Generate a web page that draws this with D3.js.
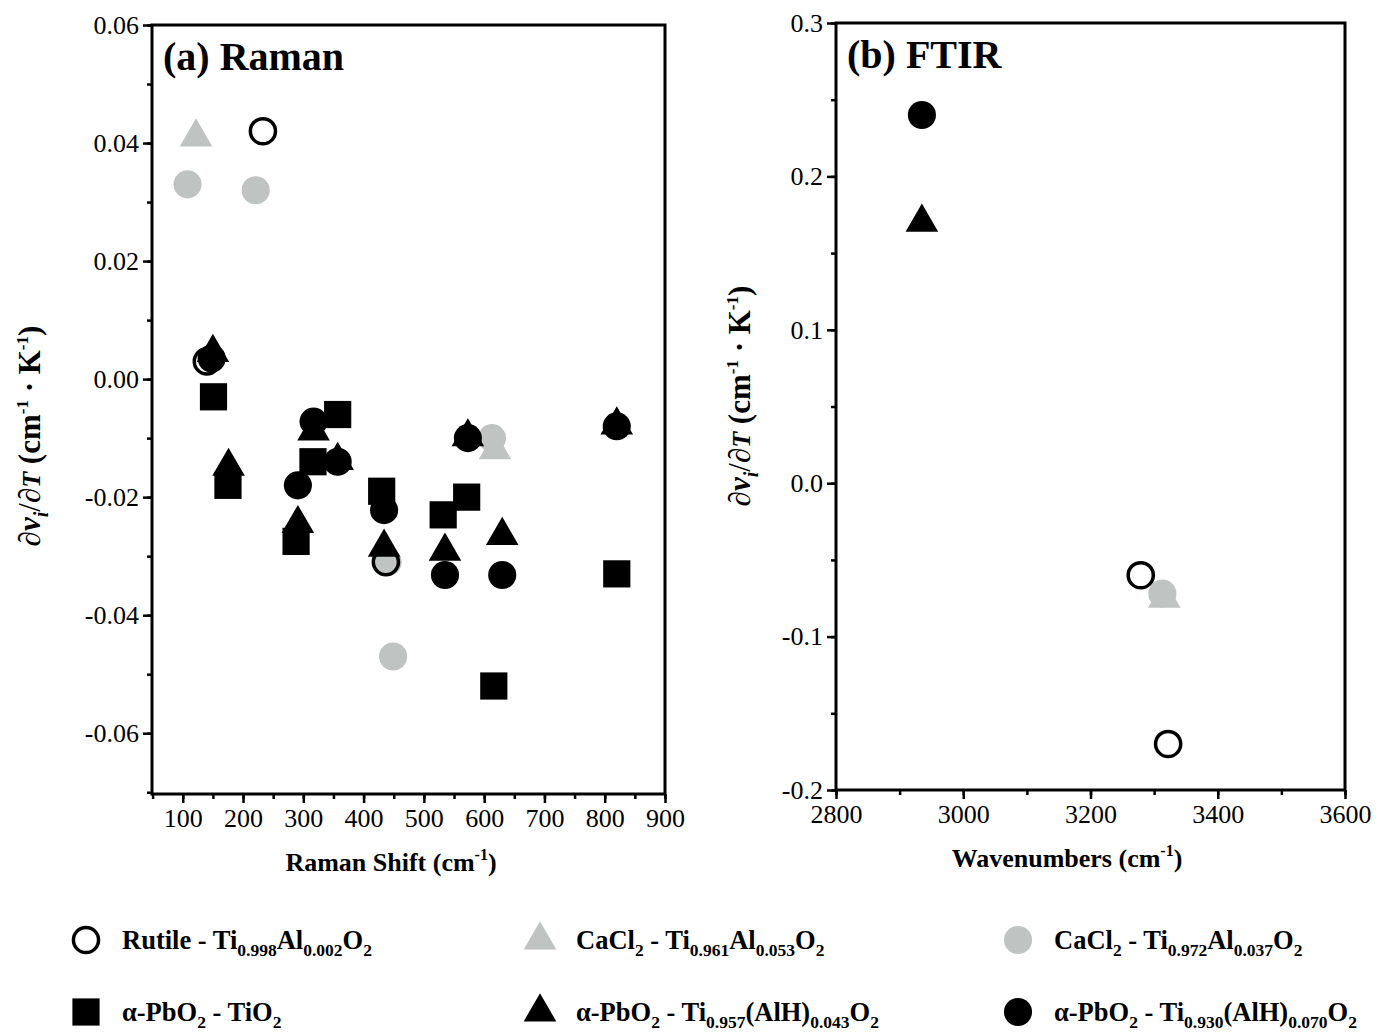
<!DOCTYPE html>
<html>
<head>
<meta charset="utf-8">
<script src="https://cdn.jsdelivr.net/npm/d3@7"></script>
<style>
  html, body { margin: 0; padding: 0; background: #fff; }
  svg { display: block; font-family: "Liberation Serif", "Times New Roman", serif; }
</style>
</head>
<body>
<svg id="chart" width="1379" height="1032"></svg>
<script>
// ---- Series (x = shift / wavenumber in cm^-1, y = dv/dT in cm^-1 K^-1) ----
const seriesNames = [
  "rutile", "cacl2_053", "cacl2_037", "pbo2_tio2", "pbo2_043", "pbo2_070"
];

// Raman, panel (a)
const ramanRutileX = [140, 233, 437];
const ramanRutileY = [0.003, 0.042, -0.031];
const ramanCaCl053X = [122, 618];
const ramanCaCl053Y = [0.041, -0.012];
const ramanCaCl037X = [108, 221, 440, 449, 613];
const ramanCaCl037Y = [0.033, 0.032, -0.031, -0.047, -0.010];
const ramanTiO2X = [151, 175, 288, 316, 357, 430, 532, 571, 616, 820];
const ramanTiO2Y = [-0.003, -0.018, -0.0275, -0.014, -0.006, -0.019, -0.023, -0.020, -0.052, -0.033];
const raman043X = [150, 176, 291, 317, 357, 434, 535, 573, 630, 820];
const raman043Y = [0.0045, -0.0148, -0.0245, -0.0088, -0.0138, -0.0285, -0.0292, -0.0098, -0.0265, -0.0078];
const raman070X = [148, 291, 317, 357, 434, 535, 573, 630, 820];
const raman070Y = [0.0035, -0.018, -0.0072, -0.014, -0.0222, -0.0332, -0.010, -0.0332, -0.008];

// FTIR, panel (b)
const ftirRutileX = [3279, 3322];
const ftirRutileY = [-0.060, -0.170];
const ftirCaCl053X = [3316];
const ftirCaCl053Y = [-0.075];
const ftirCaCl037X = [3313];
const ftirCaCl037Y = [-0.072];
const ftir043X = [2935];
const ftir043Y = [0.170];
const ftir070X = [2935];
const ftir070Y = [0.240];

// Tick values
const ramanXTicks = [100, 200, 300, 400, 500, 600, 700, 800, 900];
const ramanYTicks = [0.06, 0.04, 0.02, 0.00, -0.02, -0.04, -0.06];
const ftirXTicks = [2800, 3000, 3200, 3400, 3600];
const ftirYTicks = [0.3, 0.2, 0.1, 0.0, -0.1, -0.2];

// Legend entries: segments of [text, "n" normal | "s" subscript]
const legendLabels = [
  [["Rutile - Ti","n"],["0.998","s"],["Al","n"],["0.002","s"],["O","n"],["2","s"]],
  [["CaCl","n"],["2","s"],[" - Ti","n"],["0.961","s"],["Al","n"],["0.053","s"],["O","n"],["2","s"]],
  [["CaCl","n"],["2","s"],[" - Ti","n"],["0.972","s"],["Al","n"],["0.037","s"],["O","n"],["2","s"]],
  [["α-PbO","n"],["2","s"],[" - TiO","n"],["2","s"]],
  [["α-PbO","n"],["2","s"],[" - Ti","n"],["0.957","s"],["(AlH)","n"],["0.043","s"],["O","n"],["2","s"]],
  [["α-PbO","n"],["2","s"],[" -  Ti","n"],["0.930","s"],["(AlH)","n"],["0.070","s"],["O","n"],["2","s"]]
];

const GRAY = "#bfc3c2";
const styles = {
  rutile:    { shape: "circle",   fill: "none",  stroke: "#000" },
  cacl2_053: { shape: "triangle", fill: GRAY,    stroke: "none" },
  cacl2_037: { shape: "circle",   fill: GRAY,    stroke: "none" },
  pbo2_tio2: { shape: "square",   fill: "#000",  stroke: "none" },
  pbo2_043:  { shape: "triangle", fill: "#000",  stroke: "none" },
  pbo2_070:  { shape: "circle",   fill: "#000",  stroke: "none" }
};

const svg = d3.select("#chart");

function symbolPath(shape, scale = 1) {
  if (shape === "circle") return d3.symbol(d3.symbolCircle, 620 * scale)();
  if (shape === "square") return d3.symbol(d3.symbolSquare, 740 * scale)();
  return d3.symbol(d3.symbolTriangle, 460 * scale)();
}

function drawPoints(g, xs, ys, key, x, y) {
  const st = styles[key];
  const pts = xs.map((v, i) => ({ x: v, y: ys[i] }));
  const r = st.fill === "none" ? 0.8 : 1;
  g.selectAll(null).data(pts).enter().append("path")
    .attr("d", symbolPath(st.shape, r))
    .attr("transform", d => `translate(${x(d.x)},${y(d.y)})`)
    .attr("fill", st.fill)
    .attr("stroke", st.stroke)
    .attr("stroke-width", st.stroke === "none" ? 0 : 3.5);
}

function yTitle(g, cx, cy) {
  const t = g.append("text")
    .attr("transform", `translate(${cx},${cy}) rotate(-90)`)
    .attr("text-anchor", "middle")
    .attr("font-size", 31)
    .attr("font-weight", "bold");
  t.append("tspan").attr("font-weight", "normal").text("∂");
  t.append("tspan").attr("font-style", "italic").text("v");
  t.append("tspan").attr("font-style", "italic").attr("font-size", 20).attr("dy", 8).text("i");
  t.append("tspan").attr("font-weight", "normal").attr("dy", -8).text("/∂");
  t.append("tspan").attr("font-style", "italic").attr("font-size", 26).text("T");
  t.append("tspan").text(" (cm");
  t.append("tspan").attr("font-size", 17).attr("dy", -12).text("-1");
  t.append("tspan").attr("dy", 12).text(" · K");
  t.append("tspan").attr("font-size", 17).attr("dy", -12).text("-1");
  t.append("tspan").attr("dy", 12).text(")");
}

function xTitle(g, cx, cy, label) {
  const t = g.append("text")
    .attr("x", cx).attr("y", cy)
    .attr("text-anchor", "middle")
    .attr("font-size", 26)
    .attr("font-weight", "bold");
  t.append("tspan").text(label + " (cm");
  t.append("tspan").attr("font-size", 16).attr("dy", -11).text("-1");
  t.append("tspan").attr("dy", 11).text(")");
}

function panel(opts) {
  const { left, top, right, bottom, xDomain, yDomain, xTicks, xMinor, yTicks, yMinor, yFmt, title } = opts;
  const x = d3.scaleLinear().domain(xDomain).range([left, right]);
  const y = d3.scaleLinear().domain(yDomain).range([bottom, top]);
  const g = svg.append("g");

  // minor ticks
  g.append("g").attr("transform", `translate(0,${bottom})`)
    .call(d3.axisBottom(x).tickValues(xMinor).tickSize(5).tickFormat("").tickSizeOuter(0))
    .call(a => a.select(".domain").remove())
    .call(a => a.selectAll("line").attr("stroke-width", 2.5));
  g.append("g").attr("transform", `translate(${left},0)`)
    .call(d3.axisLeft(y).tickValues(yMinor).tickSize(5).tickFormat("").tickSizeOuter(0))
    .call(a => a.select(".domain").remove())
    .call(a => a.selectAll("line").attr("stroke-width", 2.5));

  // major ticks with labels
  g.append("g").attr("transform", `translate(0,${bottom})`)
    .call(d3.axisBottom(x).tickValues(xTicks).tickSize(9).tickPadding(6).tickSizeOuter(0).tickFormat(d => String(d)))
    .call(a => a.select(".domain").remove())
    .call(a => a.selectAll("line").attr("stroke-width", 2.5))
    .call(a => a.selectAll("text").attr("font-size", 26).attr("font-family", "Liberation Serif").attr("fill", "#000"));
  g.append("g").attr("transform", `translate(${left},0)`)
    .call(d3.axisLeft(y).tickValues(yTicks).tickSize(9).tickPadding(4).tickSizeOuter(0).tickFormat(yFmt))
    .call(a => a.select(".domain").remove())
    .call(a => a.selectAll("line").attr("stroke-width", 2.5))
    .call(a => a.selectAll("text").attr("font-size", 26).attr("font-family", "Liberation Serif").attr("fill", "#000"));

  // frame
  g.append("rect")
    .attr("x", left).attr("y", top)
    .attr("width", right - left).attr("height", bottom - top)
    .attr("fill", "none").attr("stroke", "#000").attr("stroke-width", 3);

  g.append("text")
    .attr("x", left + 11).attr("y", top + 45)
    .attr("font-size", 40).attr("font-weight", "bold")
    .text(title);

  return { g, x, y };
}

// ---- Panel (a): Raman ----
const A = panel({
  left: 152, top: 25, right: 665, bottom: 794,
  xDomain: [49, 900], yDomain: [-0.0703, 0.06],
  xTicks: ramanXTicks, xMinor: d3.range(50, 901, 50),
  yTicks: ramanYTicks, yMinor: d3.range(-7, 7).map(k => k / 100),
  yFmt: d => d.toFixed(2),
  title: "(a) Raman"
});
drawPoints(A.g, ramanCaCl037X, ramanCaCl037Y, "cacl2_037", A.x, A.y);
drawPoints(A.g, ramanCaCl053X, ramanCaCl053Y, "cacl2_053", A.x, A.y);
drawPoints(A.g, ramanRutileX, ramanRutileY, "rutile", A.x, A.y);
drawPoints(A.g, ramanTiO2X, ramanTiO2Y, "pbo2_tio2", A.x, A.y);
drawPoints(A.g, raman043X, raman043Y, "pbo2_043", A.x, A.y);
drawPoints(A.g, raman070X, raman070Y, "pbo2_070", A.x, A.y);
yTitle(svg, 40, 436);
xTitle(svg, 391, 871, "Raman Shift");

// ---- Panel (b): FTIR ----
const B = panel({
  left: 836, top: 23, right: 1345, bottom: 790,
  xDomain: [2800, 3600], yDomain: [-0.2, 0.3],
  xTicks: ftirXTicks, xMinor: d3.range(2800, 3601, 100),
  yTicks: ftirYTicks, yMinor: d3.range(-4, 7).map(k => k / 20),
  yFmt: d => d.toFixed(1),
  title: "(b) FTIR"
});
drawPoints(B.g, ftirCaCl037X, ftirCaCl037Y, "cacl2_037", B.x, B.y);
drawPoints(B.g, ftirCaCl053X, ftirCaCl053Y, "cacl2_053", B.x, B.y);
drawPoints(B.g, ftirRutileX, ftirRutileY, "rutile", B.x, B.y);
drawPoints(B.g, ftir043X, ftir043Y, "pbo2_043", B.x, B.y);
drawPoints(B.g, ftir070X, ftir070Y, "pbo2_070", B.x, B.y);
yTitle(svg, 750, 396);
xTitle(svg, 1067, 867, "Wavenumbers");

// ---- Legend ----
const legendCols = [86, 540, 1018];
const legendRows = [940, 1012];
const legend = svg.append("g");
seriesNames.forEach((key, i) => {
  const cx = legendCols[i % 3], cy = legendRows[Math.floor(i / 3)];
  const st = styles[key];
  legend.append("path")
    .attr("d", symbolPath(st.shape, st.fill === "none" ? 0.8 : 1))
    .attr("transform", `translate(${cx},${cy})`)
    .attr("fill", st.fill).attr("stroke", st.stroke)
    .attr("stroke-width", st.stroke === "none" ? 0 : 3.5);
  const t = legend.append("text")
    .attr("x", cx + 36).attr("y", cy + 9)
    .attr("font-size", 26.5).attr("font-weight", "bold");
  let sub = false;
  legendLabels[i].forEach(([txt, kind]) => {
    const ts = t.append("tspan").text(txt);
    if (kind === "s") {
      ts.attr("font-size", 17.5).attr("dy", sub ? 0 : 7);
      sub = true;
    } else {
      ts.attr("dy", sub ? -7 : 0);
      sub = false;
    }
  });
});
</script>
</body>
</html>
